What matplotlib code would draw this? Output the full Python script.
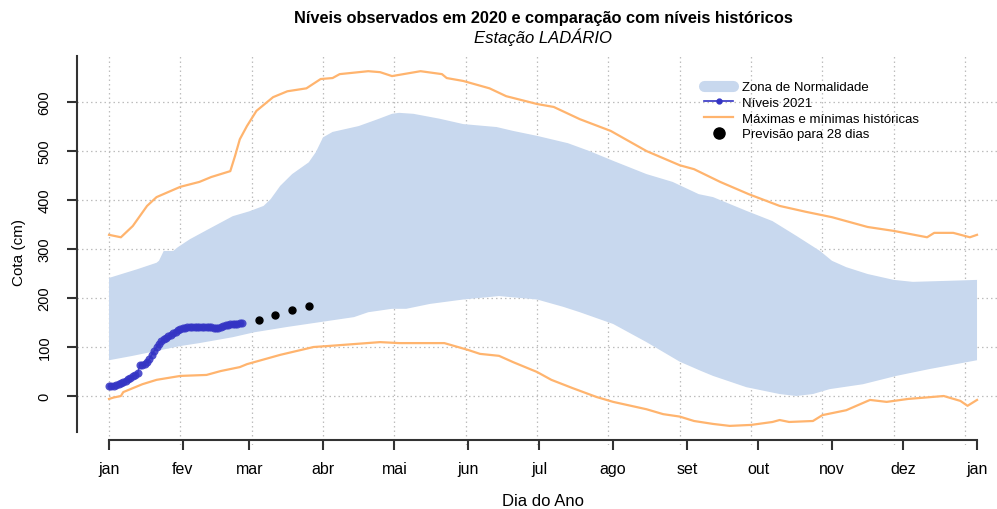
import numpy as np
import matplotlib
matplotlib.use("Agg")
import matplotlib.pyplot as plt
from matplotlib.lines import Line2D

plt.rcParams['font.family'] = ['Liberation Sans', 'DejaVu Sans']

# ---------------- data ----------------
meses_dias = [1, 32, 60, 91, 121, 152, 182, 213, 244, 274, 305, 335, 366]
meses_rotulos = ['jan', 'fev', 'mar', 'abr', 'mai', 'jun', 'jul', 'ago', 'set', 'out', 'nov', 'dez', 'jan']

niveis_2021 = [20, 20, 21, 22, 24, 26, 28, 31, 34, 37, 40, 43, 47, 63, 64, 66, 69, 76, 84, 92,
               100, 107, 112, 116, 119, 122, 125, 128, 131, 134, 136, 138, 139, 140, 140, 141,
               141, 141, 141, 141, 140, 140, 140, 140, 139, 139, 139, 140, 142, 144, 145, 146,
               146, 147, 147, 148, 148]

previsao_dias = [64, 71, 78, 85]
previsao_vals = [155, 166, 176, 184]

zona_sup_dias = [1, 13, 21, 22, 24, 28, 30, 35, 43, 53, 60, 66, 69, 73, 78, 85, 88, 91, 95, 106,
                 114, 120, 123, 129, 140, 150, 164, 171, 181, 194, 203, 213, 227, 238, 249, 255,
                 269, 280, 290, 300, 305, 311, 320, 331, 339, 353, 366]
zona_sup = [241, 259, 272, 276, 296, 296, 304, 320, 341, 367, 377, 388, 402, 429, 453, 477, 498,
            528, 539, 551, 565, 576, 578, 576, 566, 555, 549, 541, 531, 516, 500, 480, 453, 437,
            412, 406, 378, 357, 327, 296, 276, 263, 249, 237, 233, 235, 237]

zona_inf_dias = [1, 11, 21, 31, 39, 53, 62, 76, 90, 104, 110, 120, 126, 136, 150, 165, 181, 192,
                 199, 213, 227, 241, 250, 255, 269, 283, 290, 297, 304, 318, 332, 346, 366]
zona_inf = [73, 82, 92, 102, 108, 120, 130, 141, 151, 161, 171, 178, 178, 188, 197, 204, 197, 182,
            171, 147, 110, 70, 51, 41, 18, 4, 0, 4, 14, 24, 41, 55, 73]

max_dias = [1, 6, 11, 17, 21, 31, 39, 44, 52, 54, 56, 59, 63, 70, 76, 84, 90, 95, 98, 110,
            115, 120, 132, 141, 143, 150, 161, 168, 181, 188, 199, 212, 227, 241, 247, 258,
            270, 283, 294, 305, 320, 331, 345, 348, 356, 363, 366]
max_vals = [329, 324, 347, 388, 406, 427, 437, 447, 459, 490, 524, 551, 582, 610, 622, 628, 647,
            649, 657, 663, 661, 653, 663, 657, 649, 643, 628, 612, 596, 590, 565, 541, 500, 471,
            463, 437, 412, 388, 376, 365, 345, 337, 324, 333, 333, 324, 329]

min_dias = [1, 3, 6, 7, 15, 21, 31, 42, 48, 56, 59, 73, 87, 93, 104, 115, 123, 142, 152, 157,
            165, 171, 181, 187, 196, 206, 213, 227, 234, 241, 247, 255, 262, 271, 280, 283,
            287, 297, 301, 311, 321, 328, 337, 352, 359, 362, 366]
min_vals = [-6, -3, 0, 8, 24, 33, 41, 43, 51, 59, 65, 84, 100, 102, 106, 110, 108, 108, 94, 86,
            82, 69, 49, 33, 16, -2, -12, -27, -37, -42, -51, -57, -61, -59, -53, -49, -53, -51,
            -39, -29, -8, -12, -6, 0, -10, -20, -8]

y_ticks = [0, 100, 200, 300, 400, 500, 600]

# ---------------- styles ----------------
C_ZONA = '#C8D8EE'
C_HIST = '#FFB46E'
C_AZUL = '#3434C4'
C_EIXO = '#333333'

W, H = 997, 510
fig = plt.figure(figsize=(W / 100, H / 100), dpi=100)
ax = fig.add_axes([77 / W, 1 - 446 / H, (W - 77) / W, (446 - 57) / H])
ax.set_xlim(-12.46, 374.4)
ax.set_ylim(-100, 694)

# grid
for d in range(1, 367, 30):
    ax.axvline(d, color='#BDBDBD', lw=0.9, ls=(0, (1.2, 2.4)), zorder=0)
for v in y_ticks:
    ax.axhline(v, color='#BDBDBD', lw=0.9, ls=(0, (1.2, 2.4)), zorder=0)

# zone
xs = np.concatenate([zona_sup_dias, zona_inf_dias[::-1]])
ys = np.concatenate([zona_sup, zona_inf[::-1]])
ax.fill(xs, ys, color=C_ZONA, lw=0, zorder=1)

# historic max/min
ax.plot(max_dias, max_vals, color=C_HIST, lw=1.6, zorder=2)
ax.plot(min_dias, min_vals, color=C_HIST, lw=1.6, zorder=2)

# 2021 levels
dias_2021 = np.arange(1, len(niveis_2021) + 1)
ax.plot(dias_2021, niveis_2021, color=C_AZUL, lw=1.0, marker='o', ms=5.8,
        mec='none', alpha=0.85, zorder=3)

# forecast
ax.plot(previsao_dias, previsao_vals, 'o', color='black', ms=5, zorder=4)

# axes styling
for s in ['top', 'right']:
    ax.spines[s].set_visible(False)
ax.spines['left'].set_bounds(-73, 694)
ax.spines['left'].set_color(C_EIXO)
ax.spines['left'].set_linewidth(1.5)
ax.spines['bottom'].set_position(('data', -90))
ax.spines['bottom'].set_bounds(1, 366)
ax.spines['bottom'].set_color(C_EIXO)
ax.spines['bottom'].set_linewidth(1.5)

ax.set_xticks(meses_dias)
ax.set_xticklabels(meses_rotulos, fontsize=11.5)
ax.set_yticks(y_ticks)
ax.set_yticklabels([str(v) for v in y_ticks], rotation=90, va='center', fontsize=10.5)
ax.tick_params(axis='x', length=7.2, width=1.5, color=C_EIXO, pad=8)
ax.tick_params(axis='y', length=7.2, width=1.5, color=C_EIXO, pad=11)

# titles / labels
fig.text(543 / W, 1 - 18 / H, 'Níveis observados em 2020 e comparação com níveis históricos',
         ha='center', va='center', fontsize=11.8, fontweight='bold')
fig.text(543 / W, 1 - 37 / H, 'Estação LADÁRIO', ha='center', va='center', fontsize=12,
         style='italic')
fig.text(19 / W, 1 - 252 / H, 'Cota (cm)', ha='center', va='center', rotation=90, fontsize=11)
fig.text(543 / W, 1 - 502 / H, 'Dia do Ano', ha='center', va='center', fontsize=12)

# legend
handles = [
    Line2D([], [], color=C_ZONA, lw=8, solid_capstyle='round'),
    Line2D([], [], color=C_AZUL, lw=1.2, marker='o', ms=3.5),
    Line2D([], [], color=C_HIST, lw=1.6),
    Line2D([], [], color='black', lw=0, marker='o', ms=8),
]
labels = ['Zona de Normalidade', 'Níveis 2021', 'Máximas e mínimas históricas', 'Previsão para 28 dias']
ax.legend(handles, labels, loc='upper left', bbox_to_anchor=(704 / W, 1 - 82 / H),
          bbox_transform=fig.transFigure, frameon=False, fontsize=9.5, handlelength=2.2,
          handletextpad=0.68, labelspacing=0.26, borderpad=0, borderaxespad=0)

fig.savefig('out.png', dpi=100)
